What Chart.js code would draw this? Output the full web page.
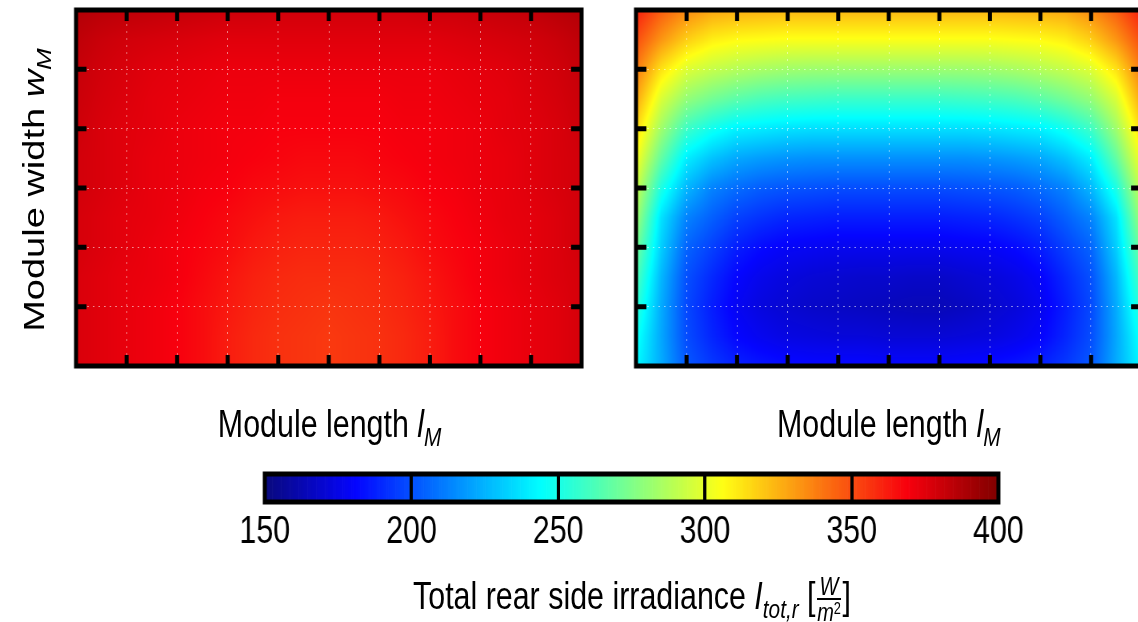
<!DOCTYPE html>
<html>
<head>
<meta charset="utf-8">
<script src="https://cdn.jsdelivr.net/npm/chart.js@4.4.0/dist/chart.umd.min.js"></script>
<style>
  html, body { margin: 0; padding: 0; background: #fff; overflow: hidden; width: 1138px; height: 622px; }
  /* the original figure is squeezed horizontally, so the whole page is drawn wider and scaled */
  #fig { position: absolute; left: 0; top: 0; width: 1423px; height: 622px; transform: scaleX(0.8); transform-origin: 0 0;
         font-family: "Liberation Sans", Arial, sans-serif; color: #000; }
  #fig canvas { position: absolute; }
  .lbl { position: absolute; font-size: 38px; line-height: 38px; white-space: nowrap; }
  .lbl sub { font-size: 26px; line-height: 0; vertical-align: -9px; }
  .xlab { transform: translateX(-50%); }
  .ylab { transform: translate(-50%, -50%) rotate(-90deg); }
  .frac { display: inline-block; vertical-align: middle; text-align: center; font-size: 25px; line-height: 22px; margin: 0 2px; }
  .frac .num { display: block; border-bottom: 2px solid #000; padding: 0 3px 1px 3px; }
  .frac .den { display: block; padding-top: 1px; }
  .frac sup { font-size: 16px; line-height: 0; vertical-align: 7px; }
</style>
</head>
<body>
<div id="fig">
  <canvas id="leftMap" width="644" height="368"></canvas>
  <canvas id="rightMap" width="644" height="368"></canvas>
  <canvas id="cbar" width="1017" height="120"></canvas>

  <div class="lbl ylab" style="left:42px; top:190px">Module width <i>w</i><sub><i>M</i></sub></div>
  <div class="lbl xlab" style="left:412px; top:405px">Module length <i>l</i><sub><i>M</i></sub></div>
  <div class="lbl xlab" style="left:1111px; top:405px">Module length <i>l</i><sub><i>M</i></sub></div>
  <div class="lbl xlab" style="left:790px; top:575px">Total rear side irradiance <i>I</i><sub><i>tot,r</i></sub> [<span class="frac"><i class="num">W</i><span class="den"><i>m</i><sup>2</sup></span></span>]</div>
</div>

<script>
// grid nodes, in tick units (10 steps along the length, 6 along the width)
const lengthSteps = [0, 0.5, 1, 1.5, 2, 2.5, 3, 3.5, 4, 4.5, 5, 5.5, 6, 6.5, 7, 7.5, 8, 8.5, 9, 9.5, 10];
const widthSteps = [6, 5.5, 5, 4.5, 4, 3.5, 3, 2.5, 2, 1.5, 1, 0.5, 0]; // rows, top to bottom

// rear side irradiance in W/m2, left map
const irradianceLeft = [
  [387, 385, 384, 383, 382, 381, 380, 380, 379, 379, 379, 379, 379, 379, 380, 380, 381, 382, 383, 385, 387],
  [384, 381, 379, 378, 377, 376, 375, 375, 375, 375, 375, 375, 375, 375, 375, 376, 377, 378, 379, 381, 384],
  [382, 379, 377, 375, 374, 373, 372, 372, 372, 372, 372, 372, 372, 372, 372, 373, 374, 375, 377, 379, 382],
  [381, 378, 376, 374, 373, 372, 371, 371, 370, 370, 370, 370, 370, 371, 371, 372, 373, 374, 376, 378, 381],
  [380, 377, 375, 374, 372, 371, 370, 370, 369, 369, 369, 369, 369, 370, 370, 371, 372, 374, 375, 377, 380],
  [379, 377, 375, 373, 372, 371, 370, 369, 368, 367, 367, 367, 368, 369, 370, 371, 372, 373, 375, 377, 379],
  [379, 377, 375, 373, 372, 370, 369, 367, 366, 365, 365, 365, 366, 367, 369, 370, 372, 373, 375, 377, 379],
  [378, 376, 374, 373, 371, 369, 367, 365, 363, 362, 362, 362, 363, 365, 367, 369, 371, 373, 374, 376, 379],
  [378, 376, 374, 372, 370, 368, 366, 363, 361, 360, 360, 360, 361, 363, 366, 368, 370, 372, 374, 376, 379],
  [377, 375, 373, 372, 370, 367, 364, 361, 359, 358, 358, 358, 359, 361, 364, 367, 370, 372, 374, 376, 378],
  [377, 375, 373, 371, 369, 366, 363, 360, 358, 357, 356, 357, 358, 360, 363, 366, 369, 371, 373, 375, 378],
  [377, 375, 373, 371, 369, 366, 362, 359, 357, 356, 355, 356, 357, 359, 362, 366, 369, 371, 373, 375, 378],
  [377, 375, 373, 371, 369, 366, 362, 359, 357, 356, 355, 356, 357, 359, 362, 366, 369, 371, 373, 375, 378]
];

// rear side irradiance in W/m2, right map
const irradianceRight = [
  [362, 346, 335, 328, 326, 325, 324, 324, 324, 324, 324, 324, 324, 324, 324, 325, 326, 328, 335, 346, 362],
  [350, 332, 318, 310, 307, 306, 305, 305, 305, 305, 305, 305, 305, 305, 305, 306, 307, 310, 318, 332, 350],
  [339, 313, 298, 292, 288, 285, 283, 282, 282, 282, 282, 282, 282, 282, 283, 285, 288, 292, 298, 313, 339],
  [328, 297, 280, 272, 266, 262, 260, 259, 258, 258, 258, 258, 258, 259, 260, 262, 266, 272, 280, 297, 328],
  [316, 283, 259, 248, 241, 239, 237, 236, 236, 236, 236, 236, 236, 236, 237, 239, 241, 248, 259, 283, 316],
  [305, 268, 240, 229, 222, 219, 217, 216, 216, 216, 216, 216, 216, 216, 217, 219, 222, 229, 240, 268, 305],
  [294, 251, 226, 213, 207, 203, 201, 200, 199, 199, 199, 199, 199, 200, 201, 203, 207, 213, 226, 251, 294],
  [284, 237, 213, 204, 196, 192, 189, 188, 187, 187, 187, 187, 187, 188, 189, 192, 196, 204, 213, 237, 284],
  [273, 232, 205, 196, 187, 182, 179, 178, 177, 177, 177, 177, 177, 178, 179, 182, 187, 196, 205, 232, 273],
  [264, 226, 200, 190, 181, 176, 173, 171, 170, 169, 169, 168, 168, 170, 172, 175, 180, 190, 200, 226, 264],
  [256, 223, 198, 187, 178, 173, 170, 168, 167, 166, 165, 164, 164, 166, 169, 172, 177, 187, 198, 223, 256],
  [248, 222, 199, 189, 181, 177, 174, 173, 172, 172, 171, 171, 171, 172, 173, 176, 180, 189, 199, 222, 248],
  [243, 223, 202, 194, 188, 185, 183, 182, 182, 182, 181, 181, 181, 182, 183, 185, 188, 194, 202, 223, 243]
];

const colorbarTicks = [150, 200, 250, 300, 350, 400];

// jet-like colour map
const cmapStops = [
  [150, [10, 10, 125]],
  [181, [5, 5, 255]],
  [244, [0, 255, 255]],
  [306, [255, 255, 20]],
  [369, [248, 0, 14]],
  [400, [128, 0, 0]]
];

function colorFor(v) {
  const s = cmapStops;
  if (v <= s[0][0]) return s[0][1];
  for (let i = 1; i < s.length; i++) {
    if (v <= s[i][0]) {
      const t = (v - s[i - 1][0]) / (s[i][0] - s[i - 1][0]);
      const a = s[i - 1][1], b = s[i][1];
      return [a[0] + (b[0] - a[0]) * t, a[1] + (b[1] - a[1]) * t, a[2] + (b[2] - a[2]) * t];
    }
  }
  return s[s.length - 1][1];
}

// value at (xv, yv) (smooth shading between nodes)
function sampleGrid(values, xv, yv) {
  const xs = lengthSteps, ys = widthSteps;
  let fx = (xv - xs[0]) / (xs[1] - xs[0]);
  let fy = (yv - ys[0]) / (ys[1] - ys[0]);
  fx = Math.max(0, Math.min(xs.length - 1, fx));
  fy = Math.max(0, Math.min(ys.length - 1, fy));
  const i0 = Math.min(Math.floor(fx), xs.length - 2);
  const j0 = Math.min(Math.floor(fy), ys.length - 2);
  const tx = fx - i0, ty = fy - j0;
  const r0 = values[j0], r1 = values[j0 + 1];
  const top = r0[i0] * (1 - tx) + r0[i0 + 1] * tx;
  const bot = r1[i0] * (1 - tx) + r1[i0 + 1] * tx;
  return top * (1 - ty) + bot * ty;
}

const heatmapPlugin = {
  id: 'heatmap',
  beforeDatasetsDraw(chart) {
    const ds = chart.data.datasets[0];
    if (!ds.grid) return;
    const { ctx, chartArea: a, scales: { x, y } } = chart;
    const x0 = Math.round(a.left), y0 = Math.round(a.top);
    const w = Math.round(a.right) - x0, h = Math.round(a.bottom) - y0;
    const img = ctx.createImageData(w, h);
    for (let py = 0; py < h; py++) {
      const yv = y.getValueForPixel(y0 + py + 0.5);
      for (let px = 0; px < w; px++) {
        const xv = x.getValueForPixel(x0 + px + 0.5);
        const c = colorFor(sampleGrid(ds.grid, xv, yv));
        const k = (py * w + px) * 4;
        img.data[k] = c[0];
        img.data[k + 1] = c[1];
        img.data[k + 2] = c[2];
        img.data[k + 3] = 255;
      }
    }
    ctx.putImageData(img, x0, y0);
  }
};

const colorbarPlugin = {
  id: 'colorbar',
  beforeDatasetsDraw(chart) {
    const ds = chart.data.datasets[0];
    if (!ds.colorbar) return;
    const { ctx, chartArea: a, scales: { x } } = chart;
    ctx.save();
    for (let v = x.min; v < x.max; v += 0.5) {
      const p0 = x.getPixelForValue(v), p1 = x.getPixelForValue(v + 0.5);
      const c = colorFor(v + 0.25);
      ctx.fillStyle = 'rgb(' + Math.round(c[0]) + ',' + Math.round(c[1]) + ',' + Math.round(c[2]) + ')';
      ctx.fillRect(p0, a.top, p1 - p0 + 0.7, a.bottom - a.top);
    }
    ctx.restore();
  },
  // tick labels under the bar, placed by the x scale
  afterDraw(chart, args, opts) {
    const { ctx, chartArea: a, scales: { x } } = chart;
    ctx.save();
    ctx.fillStyle = '#000';
    ctx.font = opts.font;
    ctx.textAlign = 'center';
    ctx.textBaseline = 'middle';
    x.ticks.forEach(t => ctx.fillText(String(t.value), x.getPixelForValue(t.value), a.bottom + opts.offset));
    ctx.restore();
  }
};

// thick black frame with inward tick marks on all four sides
const framePlugin = {
  id: 'frame',
  afterDraw(chart, args, opts) {
    const { ctx, chartArea: a, scales: { x, y } } = chart;
    ctx.save();
    ctx.strokeStyle = '#000';
    ctx.lineWidth = opts.lineWidth;
    ctx.lineCap = 'butt';
    ctx.beginPath();
    if (opts.tickY) {
      x.ticks.forEach(t => {
        if (t.value <= x.min || t.value >= x.max) return;
        const px = x.getPixelForValue(t.value);
        ctx.moveTo(px, a.bottom); ctx.lineTo(px, a.bottom - opts.tickY);
        ctx.moveTo(px, a.top); ctx.lineTo(px, a.top + opts.tickY);
      });
    }
    if (opts.tickX) {
      y.ticks.forEach(t => {
        if (t.value <= y.min || t.value >= y.max) return;
        const py = y.getPixelForValue(t.value);
        ctx.moveTo(a.left, py); ctx.lineTo(a.left + opts.tickX, py);
        ctx.moveTo(a.right, py); ctx.lineTo(a.right - opts.tickX, py);
      });
    }
    ctx.stroke();
    ctx.strokeRect(a.left, a.top, a.right - a.left, a.bottom - a.top);
    ctx.restore();
  }
};

function makePanel(canvasId, values) {
  const points = [];
  widthSteps.forEach((yv, j) => lengthSteps.forEach((xv, i) => points.push({ x: xv, y: yv, v: values[j][i] })));
  const dotted = {
    z: 1,
    color: 'rgba(255,255,255,0.55)',
    lineWidth: 1,
    drawTicks: false
  };
  return new Chart(document.getElementById(canvasId), {
    type: 'scatter',
    data: { datasets: [{ data: points, grid: values, pointRadius: 0, pointHoverRadius: 0 }] },
    options: {
      responsive: false,
      maintainAspectRatio: false,
      animation: false,
      events: [],
      layout: { padding: 6 },
      plugins: {
        legend: { display: false },
        tooltip: { enabled: false },
        frame: { lineWidth: 5, tickX: 13, tickY: 11 }
      },
      scales: {
        x: { min: 0, max: 10, z: 1, ticks: { display: false, stepSize: 1 }, grid: dotted, border: { display: false, dash: [2, 5] } },
        y: { min: 0, max: 6, z: 1, ticks: { display: false, stepSize: 1 }, grid: dotted, border: { display: false, dash: [2, 5] } }
      }
    },
    plugins: [heatmapPlugin, framePlugin]
  });
}

// resize a chart so its plot area has the given size, then move it into place
function placeChart(chart, left, top, width, height) {
  const a = chart.chartArea;
  chart.resize(chart.width + width - (a.right - a.left), chart.height + height - (a.bottom - a.top));
  const b = chart.chartArea;
  chart.canvas.style.left = (left - b.left) + 'px';
  chart.canvas.style.top = (top - b.top) + 'px';
}

const leftChart = makePanel('leftMap', irradianceLeft);
const rightChart = makePanel('rightMap', irradianceRight);

const cbarChart = new Chart(document.getElementById('cbar'), {
  type: 'scatter',
  data: { datasets: [{ data: colorbarTicks.map(v => ({ x: v, y: 0.5 })), colorbar: true, pointRadius: 0, pointHoverRadius: 0 }] },
  options: {
    responsive: false,
    maintainAspectRatio: false,
    animation: false,
    events: [],
    layout: { padding: { left: 50, right: 50, top: 6, bottom: 70 } },
    plugins: {
      legend: { display: false },
      tooltip: { enabled: false },
      frame: { lineWidth: 5, tickX: 0, tickY: 0 },
      colorbar: { font: '38px "Liberation Sans", Arial, sans-serif', offset: 31 }
    },
    scales: {
      x: {
        min: 150, max: 400, z: 1,
        afterBuildTicks: s => { s.ticks = colorbarTicks.map(v => ({ value: v })); },
        ticks: { display: false },
        grid: { z: 1, color: '#000', lineWidth: 4, drawTicks: false },
        border: { display: false }
      },
      y: { display: false, min: 0, max: 1 }
    }
  },
  plugins: [colorbarPlugin, framePlugin]
});

placeChart(leftChart, 95, 10, 632, 356);
placeChart(rightChart, 795, 10, 632, 356);
placeChart(cbarChart, 331, 474, 917, 28);
</script>
</body>
</html>
